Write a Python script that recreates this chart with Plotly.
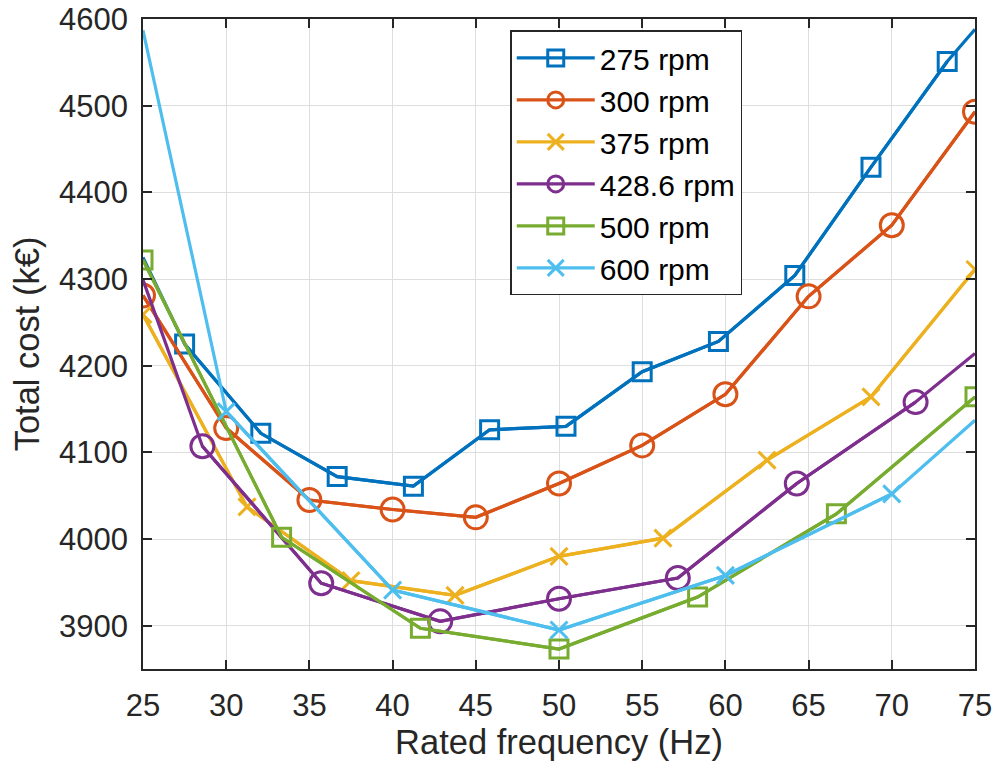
import plotly.graph_objects as go

# ---- data ----
speed_labels = ["275 rpm", "300 rpm", "375 rpm", "428.6 rpm", "500 rpm", "600 rpm"]
speed_rpm = [275, 300, 375, 3000 / 7, 500, 600]

freq_275 = [25, 27.5, 32.08, 36.67, 41.25, 45.83, 50.42, 55, 59.58, 64.17, 68.75, 73.33, 75]
cost_275 = [4325, 4225, 4122, 4072, 4061, 4126, 4130, 4193, 4228, 4304, 4429, 4551, 4588]

freq_300 = [25, 30, 35, 40, 45, 50, 55, 60, 65, 70, 75]
cost_300 = [4281, 4128, 4045, 4034, 4025, 4064, 4108, 4167, 4280, 4362, 4493]

freq_375 = [25, 31.25, 37.5, 43.75, 50, 56.25, 62.5, 68.75, 75]
cost_375 = [4259, 4037, 3952, 3935, 3980, 4001, 4091, 4164, 4311]

freq_429 = [25, 28.57, 35.71, 42.86, 50, 57.14, 64.29, 71.43, 75]
cost_429 = [4299, 4107, 3949, 3905, 3931, 3955, 4064, 4158, 4214]

freq_500 = [25, 33.33, 41.67, 50, 58.33, 66.67, 75]
cost_500 = [4322, 4002, 3897, 3873, 3933, 4029, 4164]

freq_600 = [25, 30, 40, 50, 60, 70, 75]
cost_600 = [4587, 4147, 3941, 3895, 3958, 4052, 4137]

x_ticks = [25, 30, 35, 40, 45, 50, 55, 60, 65, 70, 75]
y_ticks = [3900, 4000, 4100, 4200, 4300, 4400, 4500, 4600]

freqs = [freq_275, freq_300, freq_375, freq_429, freq_500, freq_600]
costs = [cost_275, cost_300, cost_375, cost_429, cost_500, cost_600]

# ---- style ----
colors = ["#0072BD", "#D95319", "#EDB120", "#7E2F8E", "#77AC30", "#4DBEEE"]
symbols = ["square-open", "circle-open", "x-thin-open", "circle-open", "square-open", "x-thin-open"]
msizes = [18, 23, 17, 23, 18, 17]
FONT = "Liberation Sans, Arial, Helvetica, sans-serif"
TXT = "#262626"

fig = go.Figure()
for lab, n, fx, cy, col, sym, ms in zip(speed_labels, speed_rpm, freqs, costs, colors, symbols, msizes):
    # markers only where the frequency corresponds to an even pole number
    keep = []
    for f in fx:
        p = 120 * f / n
        keep.append(abs(p - round(p)) < 0.05 and round(p) % 2 == 0)
    mx = [f for f, k in zip(fx, keep) if k]
    my = [c for c, k in zip(cy, keep) if k]
    fig.add_trace(go.Scatter(x=fx, y=cy, mode="lines", showlegend=False,
                             line=dict(color=col, width=3.2), hoverinfo="skip"))
    fig.add_trace(go.Scatter(x=mx, y=my, mode="lines+markers", name=lab,
                             line=dict(color=col, width=3.2),
                             marker=dict(symbol=sym, size=ms, color=col,
                                         line=dict(color=col, width=3))))

axis_common = dict(
    showgrid=True, gridcolor="#dedede", gridwidth=1,
    showline=True, linecolor=TXT, linewidth=1.5, mirror="ticks",
    ticks="inside", ticklen=9, tickwidth=1.5, tickcolor=TXT,
    tickfont=dict(family=FONT, size=31, color=TXT),
    zeroline=False, ticklabeloverflow="allow",
)

fig.update_xaxes(range=[25, 75], tickvals=x_ticks, ticktext=[str(v) for v in x_ticks],
                 title=dict(text="Rated frequency (Hz)", font=dict(family=FONT, size=34.5, color=TXT), standoff=5),
                 ticklabelstandoff=8, **axis_common)
fig.update_yaxes(range=[3850, 4600], tickvals=y_ticks, ticktext=[str(v) for v in y_ticks],
                 title=dict(text="Total cost (k€)", font=dict(family=FONT, size=34.5, color=TXT), standoff=9),
                 ticklabelstandoff=7, **axis_common)

# page body has an 8px margin, so the figure is sized/offset to compensate
fig.update_layout(
    width=992, height=761,
    margin=dict(l=134.5, r=25, t=10.6, b=100, autoexpand=False),
    paper_bgcolor="white", plot_bgcolor="white",
    legend=dict(x=0.4414, y=0.9825, xanchor="left", yanchor="top",
                bordercolor=TXT, borderwidth=1.5, bgcolor="white",
                font=dict(family=FONT, size=30, color="black"),
                itemwidth=78, tracegroupgap=0),
)

fig.write_html("out.html")
